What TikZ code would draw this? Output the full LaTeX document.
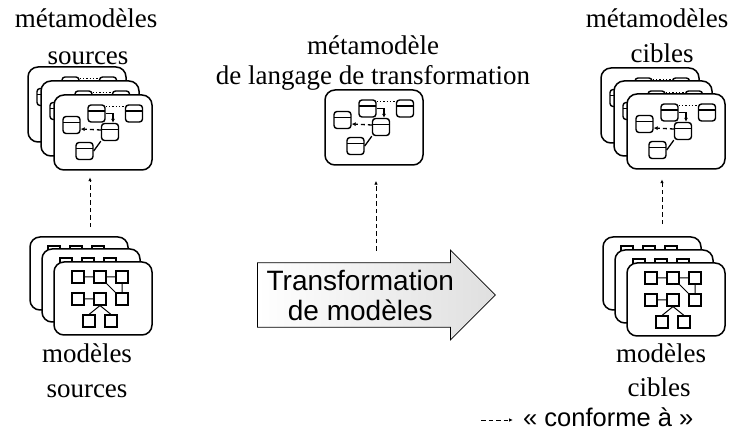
\documentclass[tikz,border=0pt]{standalone}
\usepackage{fontspec}
\setmainfont{Liberation Serif}
\newfontfamily\arial{Liberation Sans}
\usetikzlibrary{arrows.meta,shapes.arrows}

% carte de metamodele : nom, coin haut gauche
\newcommand{\metacard}[3]{%
  \begin{scope}[shift={(#2,#3)}]
    \node[card, minimum width=98pt, minimum height=75pt] (#1) at (49,37.5) {};
    \node[cls] (#1a) at (42.5,18.5) {};
    \node[cls] (#1b) at (80,18.5) {};
    \node[cls] (#1c) at (17.5,30) {};
    \node[cls] (#1d) at (56,37) {};
    \node[cls] (#1e) at (30.5,56) {};
    \draw[link, dotted] ([yshift=-2pt]#1a.north east) -- ([yshift=-2pt]#1b.north west);
    \draw[link, -{Latex[length=4pt,width=4pt]}] (#1a.east) -| ([xshift=3pt]#1d.north);
    \draw[link, dash pattern=on 4pt off 3pt, -{Latex[length=4pt,width=4pt]}] ([yshift=2pt]#1d.west) -- ([yshift=-4pt]#1c.east);
    \draw[link] (#1e.east) -- (#1d.south west);
  \end{scope}}

% carte de modele : nom, coin haut gauche
\newcommand{\modelcard}[3]{%
  \begin{scope}[shift={(#2,#3)}]
    \node[card, minimum width=98pt, minimum height=73pt] (#1) at (49,36.5) {};
    \foreach \n/\px/\py in {a/24/15, b/46/15, c/68/15, d/24/37, e/46/37, f/68/37, g/35/59, h/57/59}
      \node[sq] (#1\n) at (\px,\py) {};
    \draw[thinlink] (#1a) -- (#1b) -- (#1c) (#1d) -- (#1e) (#1c) -- (#1f)
      (#1b.south east) -- (#1f.north west) (#1e.south) -- (#1g.north) (#1e.south) -- (#1h.north);
    \draw[thinlink, double, double distance=1.6pt, line width=0.6pt] (#1b) -- (#1e);
  \end{scope}}

\begin{document}
\begin{tikzpicture}[x=1pt, y=-1pt,
  card/.style={draw, fill=white, line width=1.5pt, rounded corners=10pt},
  cls/.style={draw, fill=white, line width=1.4pt, rounded corners=3pt, minimum size=17pt, inner sep=0pt,
    path picture={\draw[line width=1.2pt] ([yshift=-6pt]path picture bounding box.north west) -- ([yshift=-6pt]path picture bounding box.north east);}},
  sq/.style={draw, fill=white, line width=1.1pt, minimum size=12pt, inner sep=0pt},
  link/.style={line width=1.3pt},
  thinlink/.style={line width=1pt},
  conforme/.style={line width=0.9pt, dash pattern=on 4.5pt off 3pt, -{Latex[length=4pt,width=3.5pt]}},
  lbl/.style={font=\fontsize{27}{30}\selectfont, inner sep=0pt, anchor=base},
  transfo/.style={single arrow, draw, line width=0.8pt, left color=white, right color=gray!25,
    minimum height=238pt, minimum width=90pt, single arrow head extend=11pt,
    align=center, font=\arial\fontsize{28}{30}\selectfont, inner sep=2pt}]
\useasboundingbox (0,0) rectangle (732,443);

\metacard{mmsa}{28}{67}
\metacard{mmsb}{41}{81}
\metacard{mmsc}{54}{95}
\metacard{mmt}{325}{90}
\metacard{mmca}{601}{68}
\metacard{mmcb}{614}{81}
\metacard{mmcc}{627}{94}
\modelcard{msa}{30}{237}
\modelcard{msb}{42}{249}
\modelcard{msc}{54}{262}
\modelcard{mca}{603}{237}
\modelcard{mcb}{615}{250}
\modelcard{mcc}{627}{263}

\node[lbl] (t1) at (86,28) {métamodèles};
\node[lbl] (t2) at (88,65) {sources};
\node[lbl] (t3) at (373,55) {métamodèle};
\node[lbl] (t4) at (373,85) {de langage de transformation};
\node[lbl] (t5) at (657,28) {métamodèles};
\node[lbl] (t6) at (662,63) {cibles};
\node[lbl] (t7) at (87,363) {modèles};
\node[lbl] (t8) at (87,398) {sources};
\node[lbl] (t9) at (661,363) {modèles};
\node[lbl] (t10) at (659,397) {cibles};

\node[transfo, anchor=tail] (tr) at (257,295) {Transformation\\de modèles};

\draw[conforme] ([xshift=11pt,yshift=9pt]msa.north) -- ++(0,-50);
\draw[conforme] ([xshift=2pt,yshift=-85pt]mmt.south) -- ([xshift=2pt,yshift=-15pt]mmt.south);
\draw[conforme] ([xshift=10pt,yshift=12pt]mca.north) -- ++(0,-45);

\node[inner sep=0pt, anchor=base west, font=\arial\fontsize{25.5}{30}\selectfont] (legende) at (523,427) {« conforme à »};
\draw[conforme] ([xshift=-42pt,yshift=7pt]legende.base west) -- ([xshift=-10pt,yshift=7pt]legende.base west);
\end{tikzpicture}
\end{document}
